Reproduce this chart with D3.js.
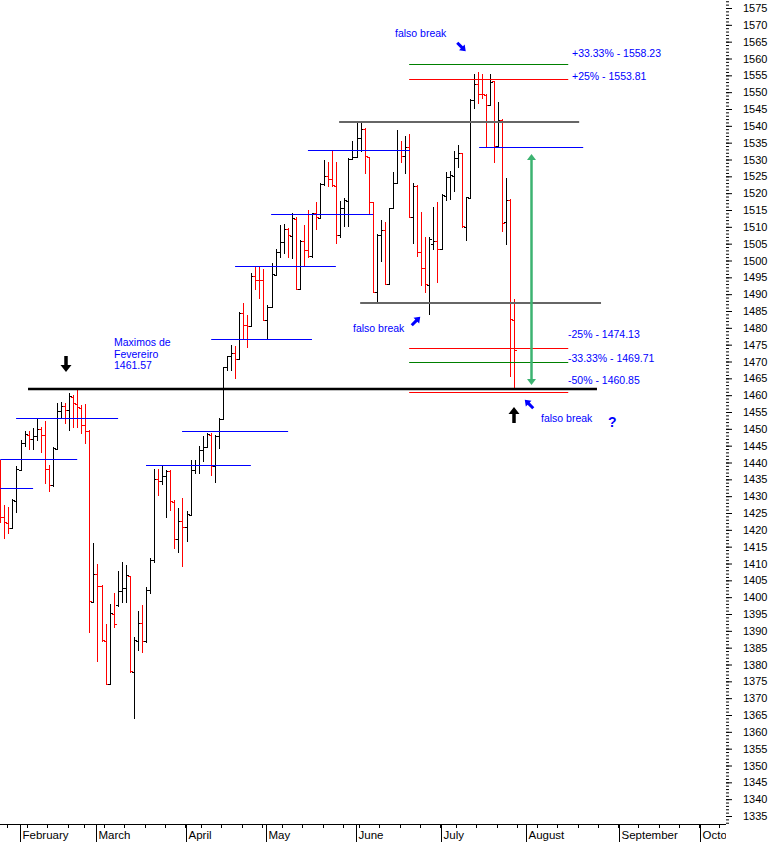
<!DOCTYPE html>
<html>
<head>
<meta charset="utf-8">
<script src="https://cdnjs.cloudflare.com/ajax/libs/d3/7.8.5/d3.min.js"></script>
<style>
body { margin: 0; background: #fff; }
svg { display: block; font-family: "Liberation Sans", Arial, sans-serif; }
</style>
</head>
<body>
<svg id="svg" width="772" height="842"></svg>
<script>
// daily bars, S&P 500, Jan 25 - Jul 27 2007
var dates = ["2007-01-25","2007-01-26","2007-01-29","2007-01-30","2007-01-31",
  "2007-02-01","2007-02-02","2007-02-05","2007-02-06","2007-02-07","2007-02-08","2007-02-09","2007-02-12","2007-02-13","2007-02-14","2007-02-15","2007-02-16","2007-02-20","2007-02-21","2007-02-22","2007-02-23","2007-02-26","2007-02-27","2007-02-28",
  "2007-03-01","2007-03-02","2007-03-05","2007-03-06","2007-03-07","2007-03-08","2007-03-09","2007-03-12","2007-03-13","2007-03-14","2007-03-15","2007-03-16","2007-03-19","2007-03-20","2007-03-21","2007-03-22","2007-03-23","2007-03-26","2007-03-27","2007-03-28","2007-03-29","2007-03-30",
  "2007-04-02","2007-04-03","2007-04-04","2007-04-05","2007-04-09","2007-04-10","2007-04-11","2007-04-12","2007-04-13","2007-04-16","2007-04-17","2007-04-18","2007-04-19","2007-04-20","2007-04-23","2007-04-24","2007-04-25","2007-04-26","2007-04-27","2007-04-30",
  "2007-05-01","2007-05-02","2007-05-03","2007-05-04","2007-05-07","2007-05-08","2007-05-09","2007-05-10","2007-05-11","2007-05-14","2007-05-15","2007-05-16","2007-05-17","2007-05-18","2007-05-21","2007-05-22","2007-05-23","2007-05-24","2007-05-25","2007-05-29","2007-05-30","2007-05-31",
  "2007-06-01","2007-06-04","2007-06-05","2007-06-06","2007-06-07","2007-06-08","2007-06-11","2007-06-12","2007-06-13","2007-06-14","2007-06-15","2007-06-18","2007-06-19","2007-06-20","2007-06-21","2007-06-22","2007-06-25","2007-06-26","2007-06-27","2007-06-28","2007-06-29",
  "2007-07-02","2007-07-03","2007-07-05","2007-07-06","2007-07-09","2007-07-10","2007-07-11","2007-07-12","2007-07-13","2007-07-16","2007-07-17","2007-07-18","2007-07-19","2007-07-20","2007-07-23","2007-07-24","2007-07-25","2007-07-26","2007-07-27"];

var open = [1440.1,1423.9,1422.0,1420.6,1428.7,
  1437.9,1445.9,1448.3,1446.9,1447.8,1450.0,1448.3,1438.0,1433.2,1443.9,1455.2,1456.8,1455.5,1459.6,1457.3,1456.2,1451.0,1449.3,1398.7,
  1406.8,1403.2,1387.1,1374.1,1395.0,1397.6,1401.9,1402.8,1406.2,1377.9,1387.1,1392.3,1386.9,1402.0,1410.9,1435.0,1434.5,1436.1,1437.5,1428.4,1417.2,1422.5,
  1420.8,1424.3,1437.8,1439.4,1443.8,1444.6,1448.2,1438.9,1447.8,1452.8,1468.5,1471.5,1472.5,1470.7,1484.3,1480.9,1480.4,1495.3,1494.2,1494.1,
  1482.4,1486.1,1495.6,1502.4,1505.6,1509.4,1507.3,1512.3,1491.5,1505.8,1503.1,1501.2,1514.0,1512.7,1522.8,1525.1,1524.1,1522.1,1507.5,1515.6,1517.6,1530.2,
  1530.6,1536.3,1539.1,1530.6,1517.4,1490.7,1507.6,1509.1,1493.0,1515.6,1523.0,1532.9,1531.0,1533.7,1512.8,1522.2,1502.6,1497.7,1492.6,1505.0,1505.7,
  1503.4,1519.1,1524.9,1525.2,1530.4,1531.9,1509.9,1518.7,1547.7,1552.5,1549.5,1549.2,1546.1,1553.2,1534.1,1541.6,1511.5,1518.1,1482.4];

var high = [1440.7,1427.4,1426.9,1429.2,1439.0,
  1446.6,1449.3,1449.3,1450.2,1453.0,1450.4,1452.4,1439.3,1444.5,1457.6,1457.9,1457.8,1460.5,1460.0,1461.6,1457.1,1457.3,1449.7,1416.0,
  1409.9,1403.6,1392.0,1397.9,1401.2,1407.9,1410.3,1409.5,1406.3,1388.1,1395.9,1397.7,1403.1,1411.5,1438.0,1438.0,1439.0,1437.8,1437.8,1428.9,1426.4,1429.4,
  1425.6,1440.8,1440.6,1445.0,1448.0,1448.7,1448.7,1448.2,1453.1,1468.5,1471.6,1474.9,1474.6,1484.8,1487.5,1483.8,1496.4,1498.2,1498.2,1497.4,
  1486.8,1499.2,1503.3,1510.5,1510.7,1509.6,1514.0,1512.8,1506.1,1510.5,1515.0,1514.1,1517.5,1522.9,1530.0,1529.4,1532.6,1529.4,1517.8,1518.5,1530.3,1535.6,
  1540.7,1540.7,1539.3,1530.8,1517.5,1507.8,1512.0,1511.5,1515.7,1526.4,1538.8,1535.6,1537.0,1537.6,1522.9,1522.4,1514.5,1507.1,1506.9,1516.0,1517.5,
  1519.7,1526.4,1526.6,1532.6,1534.3,1532.0,1519.0,1547.9,1555.4,1555.9,1555.4,1549.5,1555.4,1553.4,1547.0,1541.9,1524.4,1518.2,1488.6];

var low = [1422.3,1417.5,1419.0,1420.4,1425.2,
  1437.9,1444.9,1443.9,1443.9,1446.7,1443.0,1433.8,1431.6,1433.1,1443.9,1453.6,1451.8,1449.7,1450.6,1450.6,1448.7,1445.9,1389.8,1398.7,
  1381.1,1387.0,1374.1,1374.1,1391.2,1397.5,1398.7,1398.7,1377.9,1364.0,1384.3,1383.8,1386.8,1401.1,1410.3,1430.4,1433.5,1423.7,1425.9,1414.5,1413.5,1409.4,
  1416.8,1424.3,1437.0,1437.0,1440.3,1444.6,1436.3,1434.3,1444.2,1452.8,1467.5,1467.5,1465.0,1470.7,1476.6,1474.2,1480.4,1491.4,1489.0,1482.3,
  1476.6,1486.1,1495.6,1501.1,1502.1,1501.1,1500.6,1491.5,1491.5,1498.4,1501.1,1501.1,1509.5,1512.7,1522.4,1522.1,1522.1,1505.3,1507.1,1510.2,1510.2,1530.2,
  1530.6,1532.6,1525.9,1514.2,1490.7,1487.4,1500.0,1493.0,1493.0,1515.5,1523.0,1529.4,1525.9,1512.8,1505.1,1501.3,1492.7,1490.7,1484.2,1503.5,1493.6,
  1503.4,1518.0,1518.2,1520.7,1527.7,1510.0,1506.1,1518.7,1545.2,1546.9,1548.2,1533.6,1546.1,1529.4,1533.8,1508.8,1504.9,1465.7,1462.0];

var close = [1423.9,1422.2,1420.6,1428.8,1438.2,
  1445.9,1448.4,1447.0,1448.0,1450.0,1448.3,1438.1,1433.4,1444.3,1455.3,1456.8,1455.5,1459.7,1457.6,1456.4,1451.2,1449.4,1399.0,1406.8,
  1403.2,1387.2,1374.1,1395.4,1392.0,1401.9,1402.8,1406.6,1378.0,1387.2,1392.3,1387.0,1402.1,1410.9,1435.0,1434.5,1436.1,1437.5,1428.6,1417.2,1422.5,1420.9,
  1424.6,1437.8,1439.4,1443.8,1444.6,1448.4,1438.9,1447.8,1452.9,1468.3,1471.5,1472.5,1470.7,1484.4,1480.9,1480.4,1495.4,1494.3,1494.1,1482.4,
  1486.3,1495.9,1502.4,1505.6,1509.5,1507.7,1512.6,1491.5,1505.9,1503.2,1501.2,1514.1,1512.8,1522.8,1525.1,1524.1,1522.3,1507.5,1515.7,1518.1,1530.2,1530.6,
  1536.3,1539.2,1531.0,1517.4,1490.7,1507.7,1509.1,1493.0,1515.7,1523.0,1532.9,1531.1,1533.7,1512.8,1522.2,1502.6,1497.7,1492.9,1506.3,1505.7,1503.4,
  1519.4,1524.9,1525.4,1530.4,1531.9,1510.1,1518.8,1547.7,1552.5,1549.5,1549.4,1546.2,1553.1,1534.1,1541.6,1511.0,1518.1,1482.7,1473.3];

// drawn levels (price, first bar index, last bar index)
var febMax = 1461.57;
var febMaxSpan = [6.85, 147.4];
var blueLevels = [1432.3, 1441.0, 1453.1, 1439.2, 1449.3, 1476.6, 1498.4, 1513.7, 1532.8, 1533.6];
var blueFrom   = [0, 0, 3.9, 36, 44.9, 52.1, 58, 66.9, 76, 118.3];
var blueTo     = [8.1, 19, 29.1, 61.9, 71.1, 77, 82.9, 92.1, 101.2, 144];
var rangeLevels = [1541.2, 1487.5];
var rangeFrom   = [83.7, 88.9];
var rangeTo     = [143, 148.4];
var fibNames  = ["+33.33%", "+25%", "-25%", "-33.33%", "-50%"];
var fibLevels = [1558.23, 1553.81, 1474.13, 1469.71, 1460.85];
var fibSpan = [101, 140.3];
var moveArrow = {k: 131, from: 1531.6, to: 1463.0};

var svg = d3.select("#svg"),
    width = +svg.attr("width"),
    height = +svg.attr("height");

var parse = d3.timeParse("%Y-%m-%d");
var days = dates.map(parse);

// future weekdays for the empty part of the time axis
d3.timeDay.range(d3.timeDay.offset(days[days.length - 1], 1), parse("2007-10-12"))
  .forEach(function(d) { if (d.getDay() > 0 && d.getDay() < 6) days.push(d); });

var bars = dates.map(function(d, i) {
  return {k: i, open: open[i], high: high[i], low: low[i], close: close[i]};
});

var x = d3.scaleLinear().domain([0, 180]).range([0.3, 0.3 + 180 * 4.048]);
var y = d3.scaleLinear().domain([1335, 1575]).range([816, 8]);

function px(v) { return Math.round(v) + 0.5; }

// ---- y axis (right) ----
var yMinor = svg.append("g").attr("transform", "translate(726,0)")
  .call(d3.axisRight(y).tickValues(d3.range(1333, 1578)).tickSize(3).tickFormat(""));
yMinor.select(".domain").remove();

var yMajor = svg.append("g").attr("transform", "translate(726,0)")
  .call(d3.axisRight(y).tickValues(d3.range(1335, 1576, 5)).tickSize(6).tickPadding(11)
    .tickFormat(d3.format("d")));
yMajor.select(".domain").remove();
yMajor.selectAll("text")
  .attr("font-family", "Liberation Sans, Arial, sans-serif")
  .attr("font-size", 11)
  .attr("fill", "#000");

// ---- x axis (bottom) ----
var weekStarts = [], monthStarts = [];
days.forEach(function(d, i) {
  if (i == 0) return;
  if (d.getDay() < days[i - 1].getDay()) weekStarts.push(i);
  if (d.getMonth() != days[i - 1].getMonth()) monthStarts.push(i);
});

svg.append("defs").append("clipPath").attr("id", "xclip")
  .append("rect").attr("x", 0).attr("y", 800).attr("width", 726).attr("height", 42);

var xg = svg.append("g").attr("clip-path", "url(#xclip)");

xg.append("line")
  .attr("x1", 0).attr("x2", 726)
  .attr("y1", 824.5).attr("y2", 824.5)
  .attr("stroke", "#000");

xg.selectAll("line.week")
  .data(weekStarts)
  .enter().append("line")
    .attr("class", "week")
    .attr("x1", function(k) { return px(x(k) - 1.5); })
    .attr("x2", function(k) { return px(x(k) - 1.5); })
    .attr("y1", 824).attr("y2", 828)
    .attr("stroke", "#000");

var mt = xg.selectAll("g.month")
  .data(monthStarts)
  .enter().append("g")
    .attr("class", "month")
    .attr("transform", function(k) { return "translate(" + px(x(k) - 1) + ",0)"; });

mt.append("line")
  .attr("y1", 824).attr("y2", 842)
  .attr("stroke", "#000");

mt.append("text")
  .attr("x", 2).attr("y", 838.5)
  .attr("font-size", 11.5)
  .text(function(k) { return d3.timeFormat("%B")(days[k]); });

// ---- bars ----
svg.append("g")
  .selectAll("path")
  .data(bars)
  .enter().append("path")
    .attr("fill", "none")
    .attr("stroke", function(d) { return d.close < d.open ? "#ff0000" : "#000"; })
    .attr("d", function(d) {
      var cx = Math.round(x(d.k)) + 0.5;
      return "M" + cx + "," + Math.round(y(d.high)) + "V" + (Math.round(y(d.low)) + 1) +
             "M" + (cx - 2.5) + "," + px(y(d.open)) + "H" + cx +
             "M" + cx + "," + px(y(d.close)) + "H" + (cx + 2.5);
    });

// ---- level lines ----
var lv = svg.append("g");

lv.selectAll("line.blue")
  .data(blueLevels)
  .enter().append("line")
    .attr("class", "blue")
    .attr("x1", function(d, i) { return x(blueFrom[i]); })
    .attr("x2", function(d, i) { return x(blueTo[i]); })
    .attr("y1", function(d) { return px(y(d)); })
    .attr("y2", function(d) { return px(y(d)); })
    .attr("stroke", "#0000ff");

lv.selectAll("line.range")
  .data(rangeLevels)
  .enter().append("line")
    .attr("class", "range")
    .attr("x1", function(d, i) { return x(rangeFrom[i]); })
    .attr("x2", function(d, i) { return x(rangeTo[i]); })
    .attr("y1", function(d) { return Math.round(y(d)); })
    .attr("y2", function(d) { return Math.round(y(d)); })
    .attr("stroke", "#666")
    .attr("stroke-width", 2);

lv.selectAll("line.fib")
  .data(fibLevels)
  .enter().append("line")
    .attr("class", "fib")
    .attr("x1", x(fibSpan[0]))
    .attr("x2", x(fibSpan[1]))
    .attr("y1", function(d) { return px(y(d)); })
    .attr("y2", function(d) { return px(y(d)); })
    .attr("stroke", function(d, i) { return fibNames[i].indexOf("33.33") >= 0 ? "#008000" : "#ff0000"; });

lv.append("line")
  .attr("x1", x(febMaxSpan[0])).attr("x2", x(febMaxSpan[1]))
  .attr("y1", Math.round(y(febMax)) - 1).attr("y2", Math.round(y(febMax)) - 1)
  .attr("stroke", "#000")
  .attr("stroke-width", 2.6);

// fib labels
var fibX = [572, 572, 568, 568, 568];
var fibDy = [-7.5, 0.5, -10, -0.5, -8];
lv.selectAll("text.fib")
  .data(fibLevels)
  .enter().append("text")
    .attr("class", "fib")
    .attr("x", function(d, i) { return fibX[i]; })
    .attr("y", function(d, i) { return y(d) + fibDy[i]; })
    .attr("font-size", 10.5)
    .attr("fill", "#0000ff")
    .text(function(d, i) { return fibNames[i] + " - " + d3.format(".2f")(d); });

// green double arrow
var ga = svg.append("g").attr("fill", "#3cb371").attr("stroke", "#3cb371");
var gx = Math.round(x(moveArrow.k)) + 0.5;
ga.append("line")
  .attr("x1", gx).attr("x2", gx)
  .attr("y1", y(moveArrow.from) + 3).attr("y2", y(moveArrow.to) - 3)
  .attr("stroke-width", 2.5);
ga.append("path")
  .attr("stroke", "none")
  .attr("d", "M" + gx + "," + y(moveArrow.from) + "l-4.5,6h9z");
ga.append("path")
  .attr("stroke", "none")
  .attr("d", "M" + gx + "," + y(moveArrow.to) + "l-4.5,-6h9z");

// ---- annotations ----
function arrow(len, shaft, head, headLen) {
  var L = len / 2;
  return "M" + (-L) + "," + (-shaft / 2) + "L" + (L - headLen) + "," + (-shaft / 2) +
         "L" + (L - headLen) + "," + (-head / 2) + "L" + L + ",0" +
         "L" + (L - headLen) + "," + (head / 2) + "L" + (L - headLen) + "," + (shaft / 2) +
         "L" + (-L) + "," + (shaft / 2) + "Z";
}

var notes = svg.append("g").attr("font-size", 10.5).attr("fill", "#0000ff");

notes.append("text").attr("x", 114).attr("y", 346).text("Maximos de");
notes.append("text").attr("x", 114).attr("y", 357.7).text("Fevereiro");
notes.append("text").attr("x", 114).attr("y", 369.3).text("1461.57");
notes.append("text").attr("x", 395).attr("y", 37.3).text("falso break");
notes.append("text").attr("x", 353).attr("y", 331.5).text("falso break");
notes.append("text").attr("x", 541).attr("y", 421.5).text("falso break");
notes.append("text").attr("x", 608).attr("y", 426.5)
  .attr("font-size", 14).attr("font-weight", "bold").text("?");

var smallArrows = [[461.5, 47, 45], [416, 321, -45], [529, 404, -135]];
notes.selectAll("path.sa")
  .data(smallArrows)
  .enter().append("path")
    .attr("class", "sa")
    .attr("transform", function(d) { return "translate(" + d[0] + "," + d[1] + ") rotate(" + d[2] + ")"; })
    .attr("d", arrow(12, 3, 8, 5.5));

var bigArrows = [[66, 364, 90], [514, 415, -90]];
svg.append("g").selectAll("path")
  .data(bigArrows)
  .enter().append("path")
    .attr("fill", "#000")
    .attr("transform", function(d) { return "translate(" + d[0] + "," + d[1] + ") rotate(" + d[2] + ")"; })
    .attr("d", arrow(16, 3.5, 11, 7));
</script>
</body>
</html>
